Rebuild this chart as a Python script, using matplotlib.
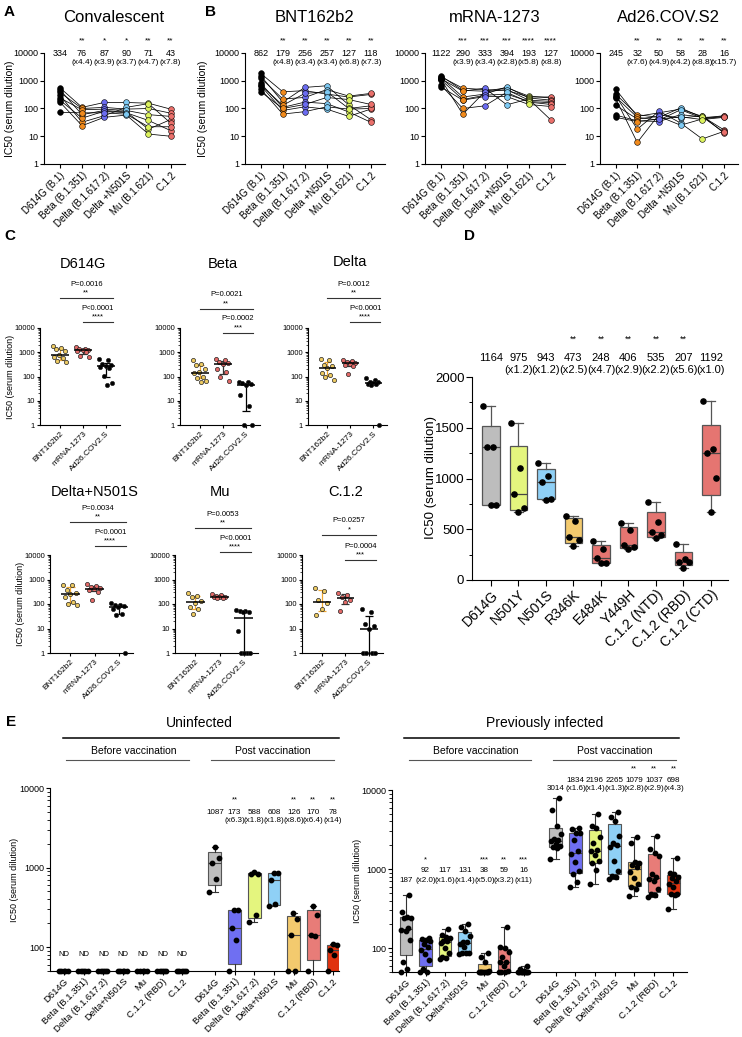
import numpy as np
import matplotlib
matplotlib.use('Agg')
import matplotlib.pyplot as plt
from matplotlib.transforms import blended_transform_factory
from matplotlib.ticker import NullLocator, LogLocator, MultipleLocator

plt.rcParams['font.family'] = ['Liberation Sans', 'DejaVu Sans']
plt.rcParams['axes.linewidth'] = 0.8
plt.rcParams['xtick.major.width'] = 0.8
plt.rcParams['ytick.major.width'] = 0.8

W, H = 742, 1037

# ---------------- panel A / B : paired donor titres ----------------
variants_ab = ['D614G (B.1)', 'Beta (B.1.351)', 'Delta (B.1.617.2)', 'Delta +N501S',
               'Mu (B.1.621)', 'C.1.2']
ab_colors = ['#000000', '#f08a1c', '#6b6cf0', '#7ec9f2', '#dcf25e', '#ea706b']

# each inner list = one variant, donors in the same order
conv_ic50 = [[560, 470, 380, 300, 240, 200, 170, 72],
             [110, 60, 100, 32, 90, 45, 24, 70],
             [165, 85, 110, 55, 95, 80, 48, 70],
             [165, 75, 95, 110, 85, 70, 58, 62],
             [155, 18, 100, 150, 60, 37, 12, 22],
             [95, 40, 68, 30, 52, 16, 10, 22]]
conv_gmt = ['334', '76', '87', '90', '71', '43']
conv_fold = ['', '(x4.4)', '(x3.9)', '(x3.7)', '(x4.7)', '(x7.8)']
conv_stars = ['', '**', '*', '*', '**', '**']

bnt_ic50 = [[1830, 1500, 1250, 800, 700, 660, 500, 400],
            [400, 170, 220, 110, 130, 85, 63, 100],
            [440, 575, 250, 170, 350, 115, 77, 140],
            [330, 660, 480, 150, 400, 95, 115, 250],
            [260, 135, 280, 75, 100, 52, 95, 210],
            [320, 40, 350, 32, 125, 95, 100, 140]]
bnt_gmt = ['862', '179', '256', '257', '127', '118']
bnt_fold = ['', '(x4.8)', '(x3.4)', '(x3.4)', '(x6.8)', '(x7.3)']
bnt_stars = ['', '**', '**', '**', '**', '**']

mrna_ic50 = [[1500, 1400, 1300, 1200, 1150, 1100, 700, 600],
             [450, 540, 260, 420, 62, 210, 100, 200],
             [420, 480, 330, 540, 400, 300, 125, 270],
             [560, 450, 600, 136, 480, 330, 380, 270],
             [280, 260, 240, 220, 200, 180, 170, 140],
             [240, 260, 200, 39, 180, 160, 140, 118]]
mrna_gmt = ['1122', '290', '333', '394', '193', '127']
mrna_fold = ['', '(x3.9)', '(x3.4)', '(x2.8)', '(x5.8)', '(x8.8)']
mrna_stars = ['', '***', '***', '***', '****', '****']

ad26_ic50 = [[500, 330, 290, 260, 230, 130, 58, 48],
             [52, 60, 18, 48, 6, 42, 36, 34],
             [70, 48, 80, 38, 60, 52, 34, 42],
             [95, 105, 30, 90, 45, 25, 60, 50],
             [52, 48, 8, 45, 55, 42, 50, 40],
             [17, 50, 15, 55, 13, 52, 14, 48]]
ad26_gmt = ['245', '32', '50', '58', '28', '16']
ad26_fold = ['', '(x7.6)', '(x4.9)', '(x4.2)', '(x8.8)', '(x15.7)']
ad26_stars = ['', '**', '**', '**', '**', '**']

# ---------------- panel C : vaccine comparison per variant ----------------
vaccines = ['BNT162b2', 'mRNA-1273', 'Ad26.COV2.S']
vac_face = ['#eecb62', '#e46a68', '#000000']
vac_bar = ['#f0a830', '#333333', '#000000']
c_titles = ['D614G', 'Beta', 'Delta', 'Delta+N501S', 'Mu', 'C.1.2']
c_bnt = [[1800, 1500, 1300, 1100, 800, 640, 580, 420, 400],
         [460, 320, 300, 200, 150, 140, 100, 90, 65, 62],
         [550, 480, 300, 260, 220, 140, 110, 95, 73],
         [600, 590, 370, 290, 250, 200, 125, 100, 90],
         [270, 220, 185, 130, 105, 77, 60, 38],
         [430, 350, 140, 110, 60, 35]]
c_mrna = [[1600, 1400, 1300, 1250, 1200, 1150, 1000, 720, 620],
          [520, 470, 400, 370, 320, 200, 150, 100, 63],
          [480, 450, 400, 360, 340, 300, 260, 130],
          [650, 540, 480, 430, 400, 380, 320, 150],
          [260, 230, 210, 200, 195, 190, 175, 170],
          [270, 240, 200, 150, 120, 52]]
c_ad26 = [[520, 460, 330, 300, 280, 250, 230, 108, 54, 46],
          [62, 58, 55, 50, 45, 18, 6.3, 1, 1],
          [85, 70, 62, 58, 55, 50, 48, 45, 1],
          [110, 95, 90, 80, 75, 60, 40, 35, 1],
          [55, 52, 50, 48, 46, 7.7, 1, 1, 1, 1],
          [60, 48, 15, 13, 10, 1, 1, 1, 1]]
c_p_all = ['P=0.0016', 'P=0.0021', 'P=0.0012', 'P=0.0034', 'P=0.0053', 'P=0.0257']
c_s_all = ['**', '**', '**', '**', '**', '*']
c_p_ad = ['P<0.0001', 'P=0.0002', 'P<0.0001', 'P<0.0001', 'P<0.0001', 'P=0.0004']
c_s_ad = ['****', '***', '****', '****', '****', '***']

# ---------------- panel D : C.1.2 single mutations ----------------
d_labels = ['D614G', 'N501Y', 'N501S', 'R346K', 'E484K', 'Y449H',
            'C.1.2 (NTD)', 'C.1.2 (RBD)', 'C.1.2 (CTD)']
d_colors = ['#bdbdbd', '#e4f57e', '#8fd0f6', '#f3ca6e', '#e57571', '#e57571',
            '#e57571', '#e57571', '#e57571']
d_ic50 = [[1714, 1313, 1313, 739, 739],
          [1543, 1106, 847, 706, 667],
          [1156, 1028, 965, 798, 789],
          [630, 584, 427, 394, 332],
          [387, 302, 217, 164, 164],
          [558, 493, 345, 322, 302],
          [765, 568, 470, 443, 410],
          [351, 210, 174, 174, 121],
          [1763, 1287, 1248, 1002, 667]]
d_gmt = ['1164', '975', '943', '473', '248', '406', '535', '207', '1192']
d_fold = ['', '(x1.2)', '(x1.2)', '(x2.5)', '(x4.7)', '(x2.9)', '(x2.2)', '(x5.6)', '(x1.0)']
d_stars = ['', '', '', '**', '**', '**', '**', '**', '']

# ---------------- panel E : before / after vaccination ----------------
e_labels = ['D614G', 'Beta (B.1.351)', 'Delta (B.1.617.2)', 'Delta+N501S', 'Mu',
            'C.1.2 (RBD)', 'C.1.2']
e_colors = ['#bdbdbd', '#6f6ff2', '#e4f57e', '#8fd0f6', '#f3ca6e', '#e87c78', '#e0330f']
ND = 1  # not detected, drawn on the axis floor
uninf_pre = [[ND] * 5 for _ in range(7)]
uninf_post = [[486, 716, 1135, 1312, 1836],
              [ND, 121, 174, 294, 294],
              [204, 255, 826, 826, 883],
              [325, 351, 687, 851, 865],
              [ND, ND, 140, 225, 268],
              [ND, 136, 143, 255, 325],
              [ND, 80, 93, 105, 110]]
uninf_post_gmt = ['1087', '173', '588', '608', '126', '170', '78']
uninf_post_fold = ['', '(x6.3)', '(x1.8)', '(x1.8)', '(x8.6)', '(x6.4)', '(x14)']
uninf_post_stars = ['', '**', '', '', '**', '**', '**']

inf_pre = [[ND, 54, 66, 127, 163, 171, 179, 239, 240, 246, 290, 472],
           [ND, ND, 55, 71, 85, 95, 103, 113, 125, 127, 132, 134],
           [74, 76, 78, 86, 102, 116, 122, 124, 134, 140, 146, 174],
           [84, 86, 86, 88, 105, 112, 120, 121, 143, 167, 188, 203],
           [ND, ND, ND, ND, ND, ND, ND, ND, 52, 66, 77, 88],
           [ND, ND, ND, 52, 60, 66, 66, 78, 90, 100, 105, 188],
           [ND, ND, ND, ND, ND, ND, ND, ND, ND, 52, 54, 60]]
inf_pre_gmt = ['187', '92', '117', '131', '38', '59', '16']
inf_pre_fold = ['', '(x2.0)', '(x1.6)', '(x1.4)', '(x5.0)', '(x3.2)', '(x11)']
inf_pre_stars = ['', '*', '', '', '***', '**', '***']
inf_post = [[1343, 1832, 1900, 1982, 2100, 2291, 2300, 2404, 2781, 3543, 5590, 8000],
            [590, 682, 870, 950, 1245, 1550, 1680, 2335, 2838, 2900, 3185, 3340],
            [650, 976, 1185, 1280, 1510, 1700, 1728, 2121, 2524, 3300, 3490, 4977],
            [752, 789, 828, 957, 1268, 1900, 2030, 2121, 2649, 4102, 4600, 5325],
            [458, 560, 600, 640, 766, 930, 1060, 1130, 1180, 1245, 2121, 2576],
            [450, 472, 490, 560, 700, 740, 790, 870, 1450, 1600, 1782, 2649],
            [311, 470, 478, 485, 600, 640, 710, 780, 804, 861, 900, 1396]]
inf_post_gmt = ['3014', '1834', '2196', '2265', '1079', '1037', '698']
inf_post_fold = ['', '(x1.6)', '(x1.4)', '(x1.3)', '(x2.8)', '(x2.9)', '(x4.3)']
inf_post_stars = ['', '', '', '', '**', '**', '**']

YLAB = 'IC50 (serum dilution)'

fig = plt.figure(figsize=(W / 100, H / 100), dpi=100)


def px_axes(l, t, r, b):
    ax = fig.add_axes([l / W, 1 - b / H, (r - l) / W, (b - t) / H])
    ax.spines['top'].set_visible(False)
    ax.spines['right'].set_visible(False)
    ax.patch.set_alpha(0)
    return ax


def fy(y):
    return 1 - y / H


def ftext(x, y, s, **kw):
    fig.text(x / W, fy(y), s, **kw)


def dtext(ax, x, y, s, **kw):
    bt = blended_transform_factory(ax.transData, fig.transFigure)
    ax.text(x, fy(y), s, transform=bt, clip_on=False, **kw)


def dline(ax, x0, x1, y, **kw):
    bt = blended_transform_factory(ax.transData, fig.transFigure)
    ax.plot([x0, x1], [fy(y), fy(y)], transform=bt, clip_on=False, **kw)


def spread(n, width):
    k = np.arange(n)
    return ((k * 0.618) % 1 - 0.5) * width


def box_stats(vals):
    q1, med, q3 = np.percentile(vals, [25, 50, 75], method='weibull')
    return dict(med=med, q1=q1, q3=q3, whislo=min(vals), whishi=max(vals), fliers=[])


# ---------------- A / B ----------------
def donor_panel(box, data, title, gmt, fold, stars, ylab_x=None):
    ax = px_axes(*box)
    vals = np.array(data, dtype=float)
    x = np.arange(len(vals))
    ax.set_yscale('log')
    ax.set_ylim(1, 10000)
    ax.set_xlim(-0.72, 5.65)
    for d in range(vals.shape[1]):
        ax.plot(x, vals[:, d], color='k', lw=0.55, zorder=2)
    for i in x:
        ax.scatter(np.full(vals.shape[1], i), vals[i], s=17, color=ab_colors[i],
                   edgecolor='k', linewidth=0.4, zorder=3, clip_on=False)
    ax.set_yticks([1, 10, 100, 1000, 10000], labels=['1', '10', '100', '1000', '10000'])
    ax.yaxis.set_minor_locator(NullLocator())
    ax.set_xticks(x, labels=variants_ab, rotation=45, ha='right', rotation_mode='anchor')
    ax.tick_params(axis='y', labelsize=6.5, length=3, pad=1)
    ax.tick_params(axis='x', labelsize=7, length=3, pad=1.5)
    for i in x:
        dtext(ax, i, 53, gmt[i], fontsize=6.5, ha='center', va='center')
        dtext(ax, i, 62, fold[i], fontsize=6, ha='center', va='center')
        dtext(ax, i, 41, stars[i], fontsize=6, ha='center', va='center')
    dtext(ax, 2.45, 17, title, fontsize=12, ha='center', va='center')
    if ylab_x is not None:
        ftext(ylab_x, (box[1] + box[3]) / 2, YLAB, rotation=90, fontsize=7.5,
              ha='center', va='center')
    return ax


donor_panel((44, 53, 185, 164), conv_ic50, 'Convalescent', conv_gmt, conv_fold, conv_stars, 10)
donor_panel((245, 53, 385, 164), bnt_ic50, 'BNT162b2', bnt_gmt, bnt_fold, bnt_stars, 203)
donor_panel((425, 53, 565, 164), mrna_ic50, 'mRNA-1273', mrna_gmt, mrna_fold, mrna_stars)
donor_panel((600, 53, 738, 164), ad26_ic50, 'Ad26.COV.S2', ad26_gmt, ad26_fold, ad26_stars)

# ---------------- C ----------------
c_boxes = [(40, 328, 120, 425), (180, 328, 260, 425), (308, 328, 387, 425),
           (50, 555, 133, 653), (175, 555, 258, 653), (302, 555, 383, 653)]
c_title_y = [264, 264, 262, 492, 492, 492]
c_lines = [(298, 322), (309, 333), (298, 322), (522, 546), (528, 552), (535, 560)]

for k in range(6):
    ax = px_axes(*c_boxes[k])
    ax.set_yscale('log')
    ax.set_ylim(1, 10000)
    ax.set_xlim(-0.85, 2.6)
    groups = [c_bnt[k], c_mrna[k], c_ad26[k]]
    for i, g in enumerate(groups):
        g = np.array(g, dtype=float)
        q1, med, q3 = np.percentile(g, [25, 50, 75], method='weibull')
        ax.vlines(i, max(q1, 1), q3, color=vac_bar[i], lw=0.9, zorder=2, clip_on=False)
        ax.hlines([max(q1, 1), q3], i - 0.17, i + 0.17, color=vac_bar[i], lw=0.9, zorder=2)
        ax.hlines(med, i - 0.38, i + 0.38, color='k', lw=1.1, zorder=4)
        ax.scatter(i + spread(len(g), 0.6), g, s=9, color=vac_face[i], edgecolor='#222222',
                   linewidth=0.5, zorder=3, clip_on=False)
    ax.set_yticks([1, 10, 100, 1000, 10000], labels=['1', '10', '100', '1000', '10000'])
    ax.yaxis.set_minor_locator(LogLocator(subs=np.arange(2, 10)))
    ax.yaxis.set_minor_formatter(plt.NullFormatter())
    ax.tick_params(axis='y', which='minor', length=1.5, width=0.5)
    ax.set_xticks(range(3), labels=vaccines, rotation=45, ha='right', rotation_mode='anchor')
    ax.tick_params(axis='y', labelsize=5.5, length=2.5, pad=1)
    ax.tick_params(axis='x', labelsize=6, length=2.5, pad=1)
    l1, l2 = c_lines[k]
    dline(ax, 0, 2.3, l1, color='#333333', lw=0.8)
    dline(ax, 1, 2.3, l2, color='#333333', lw=0.8)
    dtext(ax, 1.15, l1 - 14, c_p_all[k], fontsize=5.5, ha='center', va='center')
    dtext(ax, 1.15, l1 - 5, c_s_all[k], fontsize=5.5, ha='center', va='center')
    dtext(ax, 1.65, l2 - 14, c_p_ad[k], fontsize=5.5, ha='center', va='center')
    dtext(ax, 1.65, l2 - 5, c_s_ad[k], fontsize=5.5, ha='center', va='center')
    dtext(ax, 1.0, c_title_y[k], c_titles[k], fontsize=10.5, ha='center', va='center')
    if k in (0, 3):
        ftext(c_boxes[k][0] - 29, (c_boxes[k][1] + c_boxes[k][3]) / 2, YLAB, rotation=90,
              fontsize=6.5, ha='center', va='center')

# ---------------- D ----------------
axd = px_axes(472, 377, 728, 580)
axd.set_ylim(0, 2000)
axd.set_xlim(-0.69, 8.62)
xd = np.arange(len(d_ic50))
bp = axd.bxp([box_stats(v) for v in d_ic50], positions=xd, widths=0.65, patch_artist=True,
             showfliers=False, capwidths=0.3,
             boxprops=dict(edgecolor='#555555', linewidth=0.9),
             medianprops=dict(color='#444444', linewidth=0.9),
             whiskerprops=dict(color='#555555', linewidth=0.9),
             capprops=dict(color='#555555', linewidth=0.9))
for patch, c in zip(bp['boxes'], d_colors):
    patch.set_facecolor(c)
for i, v in enumerate(d_ic50):
    axd.scatter(i + spread(len(v), 0.55), v, s=14, color='k', zorder=4)
    dtext(axd, i, 358, d_gmt[i], fontsize=8, ha='center', va='center')
    dtext(axd, i, 370, d_fold[i], fontsize=8, ha='center', va='center')
    dtext(axd, i, 339, d_stars[i], fontsize=6.5, ha='center', va='center')
axd.set_yticks([0, 500, 1000, 1500, 2000])
axd.yaxis.set_minor_locator(MultipleLocator(250))
axd.tick_params(axis='y', which='minor', length=2.5, width=0.7)
axd.set_xticks(xd, labels=d_labels, rotation=45, ha='right', rotation_mode='anchor')
axd.tick_params(axis='y', labelsize=9.5, length=4, pad=1.5)
axd.tick_params(axis='x', labelsize=10, length=4, pad=1.5)
ftext(431, 478, YLAB, rotation=90, fontsize=9.5, ha='center', va='center')

# ---------------- E ----------------
e_gap = 7.65
e_pos = np.r_[np.arange(7), np.arange(7) + e_gap]


def e_panel(box, xmax, pre, post, header, head_x, pre_lines, post_lines, long_line):
    ax = px_axes(*box)
    ax.set_yscale('log')
    ax.set_ylim(50, 10000)
    ax.set_xlim(-0.71, xmax)
    data = pre + post
    bp = ax.bxp([box_stats(v) for v in data], positions=e_pos, widths=0.65,
                patch_artist=True, showfliers=False, capwidths=0.3,
                boxprops=dict(edgecolor='#555555', linewidth=0.8),
                medianprops=dict(color='#444444', linewidth=0.8),
                whiskerprops=dict(color='#333333', linewidth=0.8),
                capprops=dict(color='#333333', linewidth=0.8))
    for patch, c in zip(bp['boxes'], e_colors + e_colors):
        patch.set_facecolor(c)
    for p, v in zip(e_pos, data):
        v = np.array(v, dtype=float)
        ax.scatter(p + spread(len(v), 0.55), np.maximum(v, 50), s=10, color='k',
                   zorder=4, clip_on=False)
    ax.set_yticks([100, 1000, 10000], labels=['100', '1000', '10000'])
    ax.yaxis.set_minor_locator(LogLocator(subs=np.arange(2, 10)))
    ax.yaxis.set_minor_formatter(plt.NullFormatter())
    ax.tick_params(axis='y', which='minor', length=2, width=0.6)
    ax.set_xticks(e_pos, labels=e_labels + e_labels, rotation=45, ha='right',
                  rotation_mode='anchor')
    ax.tick_params(axis='y', labelsize=6.5, length=3, pad=1)
    ax.tick_params(axis='x', labelsize=6.8, length=3, pad=1)
    dtext(ax, head_x, 723, header, fontsize=10, ha='center', va='center')
    dline(ax, long_line[0], long_line[1], 738, color='k', lw=1.1)
    dline(ax, pre_lines[0], pre_lines[1], 760, color='#555555', lw=0.8)
    dline(ax, post_lines[0], post_lines[1], 760, color='#555555', lw=0.8)
    dtext(ax, (pre_lines[0] + pre_lines[1]) / 2 + 0.3, 751, 'Before vaccination',
          fontsize=7.5, ha='center', va='center')
    dtext(ax, (post_lines[0] + post_lines[1]) / 2, 751, 'Post vaccination',
          fontsize=7.5, ha='center', va='center')
    ftext(box[0] - 35, (box[1] + box[3]) / 2, YLAB, rotation=90, fontsize=6.5,
          ha='center', va='center')
    return ax


def e_numbers(ax, pos, gmt, fold, stars, y_star, y_num, y_fold, y_single):
    for i, p in enumerate(pos):
        if fold[i]:
            dtext(ax, p, y_num, gmt[i], fontsize=5.8, ha='center', va='center')
            dtext(ax, p, y_fold, fold[i], fontsize=5.8, ha='center', va='center')
        else:
            dtext(ax, p, y_single, gmt[i], fontsize=5.8, ha='center', va='center')
        dtext(ax, p, y_star, stars[i], fontsize=5.5, ha='center', va='center')


axe1 = e_panel((50, 788, 339, 971), 13.95, uninf_pre, uninf_post, 'Uninfected', 6.85,
               (0.1, 6.35), (7.45, 13.7), (-0.05, 13.95))
for p in e_pos[:7]:
    dtext(axe1, p, 955, 'ND', fontsize=5.5, ha='center', va='center')
e_numbers(axe1, e_pos[7:], uninf_post_gmt, uninf_post_fold, uninf_post_stars,
          800, 812, 821, 812)

axe2 = e_panel((392, 790, 687, 972), 14.34, inf_pre, inf_post, 'Previously infected', 7.1,
               (0.15, 6.38), (7.5, 13.78), (-0.1, 13.93))
e_numbers(axe2, e_pos[:7], inf_pre_gmt, inf_pre_fold, inf_pre_stars, 860, 871, 880, 880)
e_numbers(axe2, e_pos[7:], inf_post_gmt, inf_post_fold, inf_post_stars, 769, 780, 789, 789)

# panel letters
for letter, (x, y) in zip('ABCDE', [(4, 12), (205, 12), (4, 236), (464, 236), (6, 722)]):
    ftext(x, y, letter, fontsize=11, fontweight='bold', ha='left', va='center')

fig.savefig('out.png', dpi=100, facecolor='white')
